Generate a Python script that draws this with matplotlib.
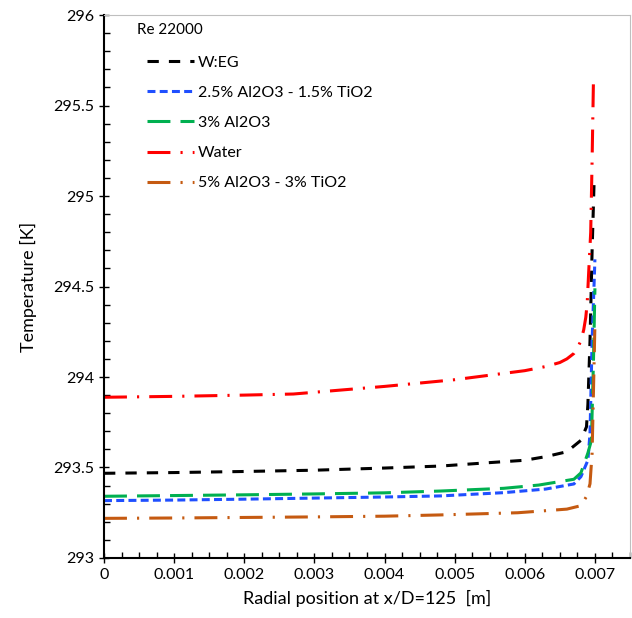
import numpy as np
import matplotlib
matplotlib.use("Agg")
import matplotlib.pyplot as plt
from matplotlib.ticker import MultipleLocator, FormatStrFormatter

plt.rcParams['font.family'] = ['Lato', 'DejaVu Sans']

# valores (posicao radial [m], temperatura [K])
x_weg = [0, 0.001, 0.002, 0.003, 0.004, 0.0048, 0.0055, 0.006, 0.0063, 0.0066,
         0.0068, 0.00688, 0.0069, 0.00693, 0.00696, 0.00699]
t_weg = [293.468, 293.472, 293.478, 293.485, 293.497, 293.508, 293.527, 293.54,
         293.56, 293.587, 293.65, 293.725, 293.85, 294.2, 294.7, 295.1]

x_hib25 = [0, 0.001, 0.002, 0.003, 0.004, 0.0048, 0.0057, 0.0063, 0.0067, 0.0068,
           0.0069, 0.00693, 0.00696, 0.007]
t_hib25 = [293.317, 293.32, 293.325, 293.331, 293.337, 293.343, 293.361, 293.381,
           293.409, 293.449, 293.54, 293.69, 294.2, 294.65]

x_al3 = [0, 0.001, 0.002, 0.003, 0.004, 0.0048, 0.0057, 0.0062, 0.0067, 0.0068,
         0.0069, 0.00695, 0.00698, 0.007]
t_al3 = [293.341, 293.345, 293.349, 293.354, 293.36, 293.37, 293.385, 293.403,
         293.435, 293.47, 293.58, 293.65, 294.1, 294.49]

x_agua = [0, 0.001, 0.002, 0.0027, 0.004, 0.005, 0.006, 0.0063, 0.0065, 0.0066,
          0.0067, 0.00675, 0.0068, 0.00684, 0.00687, 0.00689, 0.00691, 0.00694,
          0.00696, 0.00698]
t_agua = [293.888, 293.893, 293.9, 293.906, 293.948, 293.985, 294.035, 294.058,
          294.08, 294.1, 294.13, 294.16, 294.2, 294.26, 294.33, 294.41, 294.57,
          294.8, 295.2, 295.66]

x_hib5 = [0, 0.001, 0.002, 0.003, 0.004, 0.0048, 0.0059, 0.0066, 0.0068, 0.00688,
          0.00693, 0.00696, 0.007]
t_hib5 = [293.219, 293.221, 293.224, 293.227, 293.231, 293.238, 293.25, 293.27,
          293.289, 293.34, 293.41, 293.58, 294.29]

fig = plt.figure(figsize=(6.32, 6.18), dpi=100)
ax = fig.add_axes([0.1646, 0.0971, 0.8322, 0.8786])

lw = 2.2
ax.plot(x_weg, t_weg, color='black', lw=lw, dashes=(3.7, 3.3), label='W:EG')
ax.plot(x_hib25, t_hib25, color='#1f4fff', lw=lw, dashes=(2.6, 1.4),
        label='2.5% Al2O3 - 1.5% TiO2')
ax.plot(x_al3, t_al3, color='#00b050', lw=lw, dashes=(7.5, 3.3), label='3% Al2O3')
ax.plot(x_agua, t_agua, color='#ff0000', lw=lw, dashes=(7.5, 3.3, 0.7, 3.3),
        label='Water')
ax.plot(x_hib5, t_hib5, color='#c55a11', lw=lw, dashes=(7.5, 3.3, 0.7, 3.3),
        label='5% Al2O3 - 3% TiO2')

ax.set_xlim(0, 0.0075)
ax.set_ylim(293, 296)
ax.xaxis.set_major_locator(MultipleLocator(0.001))
ax.xaxis.set_minor_locator(MultipleLocator(0.00025))
ax.yaxis.set_major_locator(MultipleLocator(0.5))
ax.yaxis.set_minor_locator(MultipleLocator(0.1))
ax.xaxis.set_major_formatter(FormatStrFormatter('%g'))
ax.yaxis.set_major_formatter(FormatStrFormatter('%g'))
ax.tick_params(which='major', direction='inout', length=7, width=1, labelsize=11.5,
               top=False, right=False)
ax.tick_params(which='minor', direction='in', length=4, width=1,
               top=False, right=False)

for s in ['left', 'bottom']:
    ax.spines[s].set_linewidth(1.5)
for s in ['top', 'right']:
    ax.spines[s].set_color('#bfbfbf')
    ax.spines[s].set_linewidth(0.8)

ax.set_xlabel('Radial position at x/D=125  [m]', fontsize=13, labelpad=6)
ax.set_ylabel('Temperature [K]', fontsize=13, labelpad=12)

ax.text(0.063, 0.972, 'Re 22000', transform=ax.transAxes, fontsize=11,
        va='center', ha='left')
ax.legend(loc='upper left', bbox_to_anchor=(0.055, 0.952), frameon=False,
          fontsize=11.5, handlelength=2.9, handletextpad=0.25, labelspacing=1.0)

fig.savefig('out.png', dpi=100)
